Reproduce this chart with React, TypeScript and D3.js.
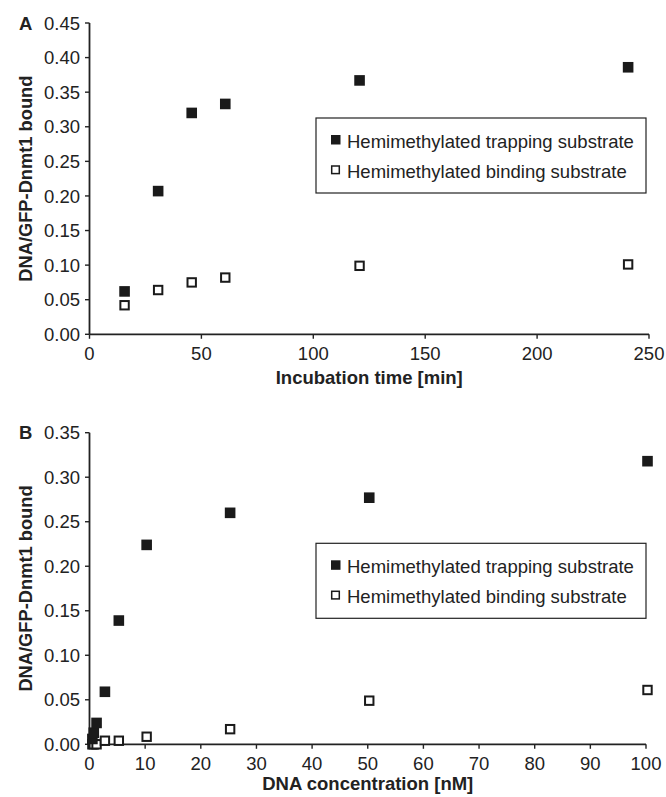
import React from 'react';
import * as d3 from 'd3';

// Panel A: binding over time
const timeMin = [15, 30, 45, 60, 120, 240];
const trappingA = [0.062, 0.207, 0.32, 0.333, 0.367, 0.386];
const bindingA = [0.042, 0.064, 0.075, 0.082, 0.099, 0.101];
const xTicksA = [0, 50, 100, 150, 200, 250];
const yTicksA = [0, 0.05, 0.1, 0.15, 0.2, 0.25, 0.3, 0.35, 0.4, 0.45];

// Panel B: binding vs DNA concentration
const concNM = [0.25, 0.5, 1, 2.5, 5, 10, 25, 50, 100];
const trappingB = [0.006, 0.013, 0.024, 0.059, 0.139, 0.224, 0.26, 0.277, 0.318];
const bindingB = [0, 0, 0, 0.004, 0.004, 0.0085, 0.017, 0.049, 0.061];
const xTicksB = [0, 10, 20, 30, 40, 50, 60, 70, 80, 90, 100];
const yTicksB = [0, 0.05, 0.1, 0.15, 0.2, 0.25, 0.3, 0.35];

const seriesNames = ['Hemimethylated trapping substrate', 'Hemimethylated binding substrate'];
const yTitle = 'DNA/GFP-Dnmt1 bound';

const FONT = '"Liberation Sans", Arial, Helvetica, sans-serif';
const INK = '#222';
const FS = 18.5;

type PanelProps = {
    tag: string;
    xs: number[];
    trapping: number[];
    binding: number[];
    xTicks: number[];
    yTicks: number[];
    xTitle: string;
    top: number;
    bottom: number;
    right: number;
    titleGap: number;
    legendTop: number;
};

const Panel = ({ tag, xs, trapping, binding, xTicks, yTicks, xTitle, top, bottom, right, titleGap, legendTop }: PanelProps) => {
    const left = 89.5;

    const x = d3.scaleLinear()
        .domain([0, xTicks[xTicks.length - 1]])
        .range([left, right]);
    const y = d3.scaleLinear()
        .domain([0, yTicks[yTicks.length - 1]])
        .range([bottom, top]);

    const fmt = d3.format('.2f');
    const dx = 1.5; // markers sit a hair right of their tick in the source

    return (
        <g fontFamily={FONT} fill={INK}>
            {/* panel tag */}
            <text x={19} y={top + 6.6} fontSize={FS} fontWeight="bold">{tag}</text>

            {/* y axis */}
            <line x1={left} x2={left} y1={top} y2={bottom} stroke={INK} strokeWidth={1.8} />
            {yTicks.map(t => (
                <g key={'y' + t}>
                    <line x1={left - 4.5} x2={left} y1={y(t)} y2={y(t)} stroke={INK} strokeWidth={1.4} />
                    <text x={80} y={y(t) + 6.6} fontSize={FS} textAnchor="end">{fmt(t)}</text>
                </g>
            ))}

            {/* x axis */}
            <line x1={left} x2={right} y1={bottom} y2={bottom} stroke={INK} strokeWidth={1.8} />
            {xTicks.map(t => (
                <g key={'x' + t}>
                    <line x1={x(t)} x2={x(t)} y1={bottom} y2={bottom + 4.5} stroke={INK} strokeWidth={1.4} />
                    <text x={x(t)} y={bottom + 26} fontSize={FS} textAnchor="middle">{t}</text>
                </g>
            ))}

            {/* titles */}
            <text x={(left + right) / 2} y={bottom + titleGap} fontSize={FS} fontWeight="bold" textAnchor="middle">{xTitle}</text>
            <text
                transform={`translate(31.5, ${(top + bottom) / 2}) rotate(-90)`}
                fontSize={18.3}
                fontWeight="bold"
                textAnchor="middle"
            >{yTitle}</text>

            {/* binding substrate: open squares */}
            {xs.map((v, i) => (
                <rect
                    key={'b' + i}
                    x={x(v) + dx - 4.2}
                    y={y(binding[i]) - 4.2}
                    width={8.4}
                    height={8.4}
                    fill="white"
                    stroke="#1a1a1a"
                    strokeWidth={2}
                />
            ))}

            {/* trapping substrate: filled squares */}
            {xs.map((v, i) => (
                <rect
                    key={'t' + i}
                    x={x(v) + dx - 5.3}
                    y={y(trapping[i]) - 5.3}
                    width={10.6}
                    height={10.6}
                    fill="#1a1a1a"
                />
            ))}

            {/* legend */}
            <rect x={316} y={legendTop} width={330} height={75} fill="white" stroke={INK} strokeWidth={1.2} />
            <rect x={331} y={legendTop + 17} width={9.5} height={9.5} fill="#1a1a1a" />
            <rect x={331.7} y={legendTop + 48} width={7.6} height={7.6} fill="white" stroke="#1a1a1a" strokeWidth={1.5} />
            <text x={347} y={legendTop + 30} fontSize={FS}>{seriesNames[0]}</text>
            <text x={347} y={legendTop + 60} fontSize={FS}>{seriesNames[1]}</text>
        </g>
    );
};

const App = () => {
    return (
        <div style={{ position: 'absolute', left: 0, top: 0 }}>
            <svg width={666} height={797} style={{ display: 'block', background: 'white' }}>
                <Panel
                    tag="A"
                    xs={timeMin}
                    trapping={trappingA}
                    binding={bindingA}
                    xTicks={xTicksA}
                    yTicks={yTicksA}
                    xTitle="Incubation time [min]"
                    top={23}
                    bottom={334.3}
                    right={649}
                    titleGap={50}
                    legendTop={118}
                />
                <Panel
                    tag="B"
                    xs={concNM}
                    trapping={trappingB}
                    binding={bindingB}
                    xTicks={xTicksB}
                    yTicks={yTicksB}
                    xTitle="DNA concentration [nM]"
                    top={432.7}
                    bottom={744.3}
                    right={646}
                    titleGap={46}
                    legendTop={543.3}
                />
            </svg>
        </div>
    );
};

export default App;
